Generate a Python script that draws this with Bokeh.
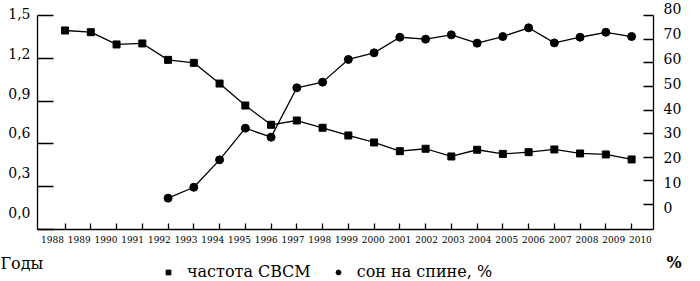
from bokeh.plotting import figure
from bokeh.layouts import column
from bokeh.models import (Range1d, LinearAxis, FixedTicker, Legend, LegendItem, Label,
                          CustomLabelingPolicy)
from bokeh.embed import file_html
from bokeh.resources import INLINE

# ---- data ----
years = list(range(1988, 2011))
year_labels = [str(y) for y in years]
sids_rate = [1.395, 1.383, 1.297, 1.304, 1.189, 1.168, 1.023, 0.869, 0.734, 0.764,
             0.713, 0.659, 0.610, 0.549, 0.566, 0.512, 0.559, 0.530, 0.542, 0.561,
             0.533, 0.526, 0.491]
back_years = list(range(1992, 2011))
back_sleep = [2.7, 7.3, 18.9, 32.3, 28.5, 49.4, 51.8, 61.4, 64.2, 70.8, 70.0, 71.8,
              68.3, 71.1, 74.8, 68.4, 70.8, 72.9, 71.1]
left_ticks = [0.0, 0.3, 0.6, 0.9, 1.2, 1.5]
left_tick_labels = ["0,0", "0,3", "0,6", "0,9", "1,2", "1,5"]
right_ticks = [0, 10, 20, 30, 40, 50, 60, 70, 80]
right_tick_labels = ["0", "10", "20", "30", "40", "50", "60", "70", "80"]
series_names = ["частота СВСМ", "сон на спине, %"]
x_title = "Годы"
right_title = "%"

FONT = "DejaVu Serif"

p = figure(width=700, height=250, output_backend="svg", toolbar_location=None,
           x_range=Range1d(1986.93, 2010.85), y_range=Range1d(0, 1.5841),
           x_axis_location=None, y_axis_location=None,
           min_border_left=37, min_border_right=47, min_border_top=3, min_border_bottom=21)
p.outline_line_color = None
p.grid.visible = False

p.extra_y_ranges = {
    "right": Range1d(-10.58, 85.08),
    "rlab": Range1d(-8.84, 82.01),
    "llab": Range1d(-0.128, 1.5754),
}
p.extra_x_ranges = {"xlab": Range1d(1987.44, 2010.49)}


def tick_axis(ax, tin, bounds):
    ax.bounds = bounds
    ax.major_tick_in = tin
    ax.major_tick_out = 0
    ax.minor_tick_line_color = None
    ax.major_label_text_font_size = "0px"
    ax.major_label_standoff = 0
    ax.major_label_policy = CustomLabelingPolicy(code="for (const i of indices) indices.unset(i)")
    ax.axis_line_color = "black"
    ax.axis_line_width = 1.3
    ax.major_tick_line_color = "black"
    ax.major_tick_line_width = 1.3
    return ax


def label_axis(ax, size, standoff):
    ax.axis_line_color = None
    ax.major_tick_line_color = None
    ax.minor_tick_line_color = None
    ax.major_tick_in = 0
    ax.major_tick_out = 0
    ax.major_label_text_font = FONT
    ax.major_label_text_font_size = size
    ax.major_label_text_color = "black"
    ax.major_label_standoff = standoff
    return ax

# left
p.add_layout(tick_axis(LinearAxis(ticker=FixedTicker(ticks=left_ticks)), 16, (0, 1.5)), "left")
p.add_layout(label_axis(LinearAxis(y_range_name="llab", ticker=FixedTicker(ticks=left_ticks),
                        major_label_overrides=dict(zip(left_ticks, left_tick_labels))), "14px", 7), "left")

# right
p.add_layout(tick_axis(LinearAxis(y_range_name="right", ticker=FixedTicker(ticks=right_ticks)),
                       10, (-10.58, 80)), "right")
p.add_layout(label_axis(LinearAxis(y_range_name="rlab", ticker=FixedTicker(ticks=right_ticks),
                        major_label_overrides=dict(zip(right_ticks, right_tick_labels))), "14px", 10), "right")

# bottom
p.add_layout(tick_axis(LinearAxis(ticker=FixedTicker(ticks=years)), 6, (1986.93, 2010.85)), "below")
p.add_layout(label_axis(LinearAxis(x_range_name="xlab", ticker=FixedTicker(ticks=years),
                        major_label_overrides=dict(zip(years, year_labels))), "9px", 6), "below")

# series
p.line(years, sids_rate, line_color="black", line_width=1.3)
p.scatter(years, sids_rate, marker="square", size=7, fill_color="black", line_color="black")
p.line(back_years, back_sleep, line_color="black", line_width=1.3, y_range_name="right")
p.scatter(back_years, back_sleep, marker="circle", size=8, fill_color="black",
          line_color="black", y_range_name="right")

# ---- legend strip ----
q = figure(width=700, height=31, output_backend="svg", toolbar_location=None,
           x_range=Range1d(0, 1), y_range=Range1d(0, 1),
           x_axis_location=None, y_axis_location=None,
           min_border_left=0, min_border_right=0, min_border_top=0, min_border_bottom=0)
q.outline_line_color = None
q.grid.visible = False
for fig in (p, q):
    if hasattr(fig, "frame_align"):
        fig.frame_align = False
# legend proxies: same series, outside the strip's view range
r1 = q.scatter(years, sids_rate, marker="square", size=7, fill_color="black", line_color="black")
r2 = q.scatter(back_years, back_sleep, marker="circle", size=8, fill_color="black", line_color="black")

legend = Legend(items=[LegendItem(label=series_names[0], renderers=[r1]),
                       LegendItem(label=series_names[1], renderers=[r2])],
                orientation="horizontal", location=(158, 0), padding=0, margin=0,
                spacing=17, label_standoff=9, glyph_width=20, glyph_height=12, label_height=12,
                border_line_alpha=0, background_fill_alpha=0,
                label_text_font=FONT, label_text_font_size="16px", label_text_color="black")
q.add_layout(legend, "center")

q.add_layout(Label(x=0, y=18, x_units="screen", y_units="screen", text=x_title,
                   text_font=FONT, text_font_size="16px", text_color="black",
                   text_baseline="middle"))
q.add_layout(Label(x=666, y=19.5, x_units="screen", y_units="screen", text=right_title,
                   text_font=FONT, text_font_size="16px", text_font_style="bold",
                   text_color="black", text_baseline="middle"))

open("out.html", "w").write(file_html(column(p, q, spacing=0), INLINE))
